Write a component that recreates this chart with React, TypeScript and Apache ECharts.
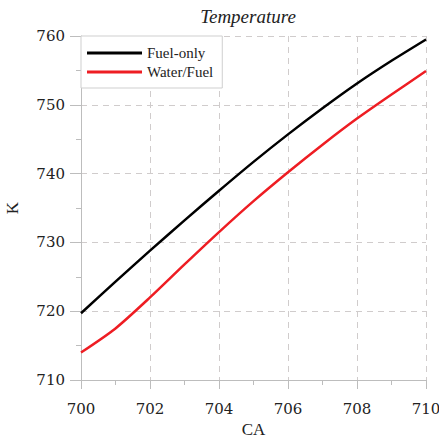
import React, { useEffect, useRef } from "react";
import * as echarts from "echarts";

const caValues = [700, 701, 702, 703, 704, 705, 706, 707, 708, 709, 710];
const fuelOnly = [719.7, 724.3, 728.8, 733.2, 737.5, 741.7, 745.7, 749.5, 753.1, 756.4, 759.5];
const waterFuel = [714.0, 717.5, 722.0, 726.8, 731.5, 736.0, 740.2, 744.2, 748.0, 751.5, 754.9];
const seriesNames = ["Fuel-only", "Water/Fuel"];

const serif = "Liberation Serif";
const numFont = "DejaVu Serif";
const textColor = "#222";
const axisGray = "#bdbdbd";
const gridGray = "#d0cccc";

export default function App() {
  const ref = useRef<HTMLDivElement>(null);
  useEffect(() => {
    if (!ref.current) return;
    const chart = echarts.init(ref.current, undefined, { renderer: "svg" });
    const toPairs = (ys: number[]) => caValues.map((x, i) => [x, ys[i]]);
    chart.setOption({
      animation: false,
      backgroundColor: "#fff",
      graphic: [
        {
          type: "text",
          x: 248,
          y: 16,
          style: {
            text: "Temperature",
            font: `italic 19px "${serif}"`,
            fill: textColor,
            align: "center",
            verticalAlign: "middle",
          },
        },
      ],
      grid: { left: 81, right: 13, top: 36, bottom: 58, containLabel: false, outerBoundsMode: "none" },
      legend: {
        orient: "vertical",
        left: 81,
        top: 36,
        padding: [9, 9, 8, 6],
        itemGap: 3,
        itemWidth: 55,
        itemHeight: 3,
        icon: "rect",
        backgroundColor: "#fff",
        borderColor: "#cfcfcf",
        borderWidth: 1,
        borderRadius: 0,
        data: seriesNames,
        textStyle: { fontFamily: serif, fontSize: 15, color: textColor, lineHeight: 16 },
      },
      xAxis: {
        type: "value",
        min: 700,
        max: 710,
        interval: 2,
        name: "CA",
        nameLocation: "middle",
        nameGap: 41,
        nameTextStyle: { fontFamily: serif, fontSize: 17, color: textColor },
        axisLine: { show: true, lineStyle: { color: axisGray, width: 1 } },
        axisTick: { show: true, length: 9, lineStyle: { color: axisGray } },
        minorTick: { show: true, splitNumber: 2, length: 5, lineStyle: { color: axisGray } },
        axisLabel: { margin: 21, fontFamily: numFont, fontSize: 15, color: textColor },
        splitLine: { show: true, lineStyle: { color: gridGray, type: [6, 5], width: 1 } },
      },
      yAxis: {
        type: "value",
        min: 710,
        max: 760,
        interval: 10,
        name: "K",
        nameLocation: "middle",
        nameGap: 60,
        nameTextStyle: { fontFamily: serif, fontSize: 17, color: textColor },
        axisLine: { show: true, lineStyle: { color: axisGray, width: 1 } },
        axisTick: { show: true, length: 11, lineStyle: { color: axisGray } },
        minorTick: { show: true, splitNumber: 2, length: 5, lineStyle: { color: axisGray } },
        axisLabel: { margin: 16, fontFamily: numFont, fontSize: 15, color: textColor },
        splitLine: { show: true, lineStyle: { color: gridGray, type: [6, 5], width: 1 } },
      },
      series: [
        {
          name: seriesNames[0],
          type: "line",
          data: toPairs(fuelOnly),
          symbol: "none",
          smooth: 0.25,
          color: "#000",
          lineStyle: { color: "#000", width: 2.5 },
          z: 3,
        },
        {
          name: seriesNames[1],
          type: "line",
          data: toPairs(waterFuel),
          symbol: "none",
          smooth: 0.25,
          color: "#ee1d23",
          lineStyle: { color: "#ee1d23", width: 2.5 },
          z: 3,
        },
      ],
    });
    return () => chart.dispose();
  }, []);
  return <div ref={ref} style={{ width: 439, height: 438, position: "fixed", left: 0, top: 0 }} />;
}
